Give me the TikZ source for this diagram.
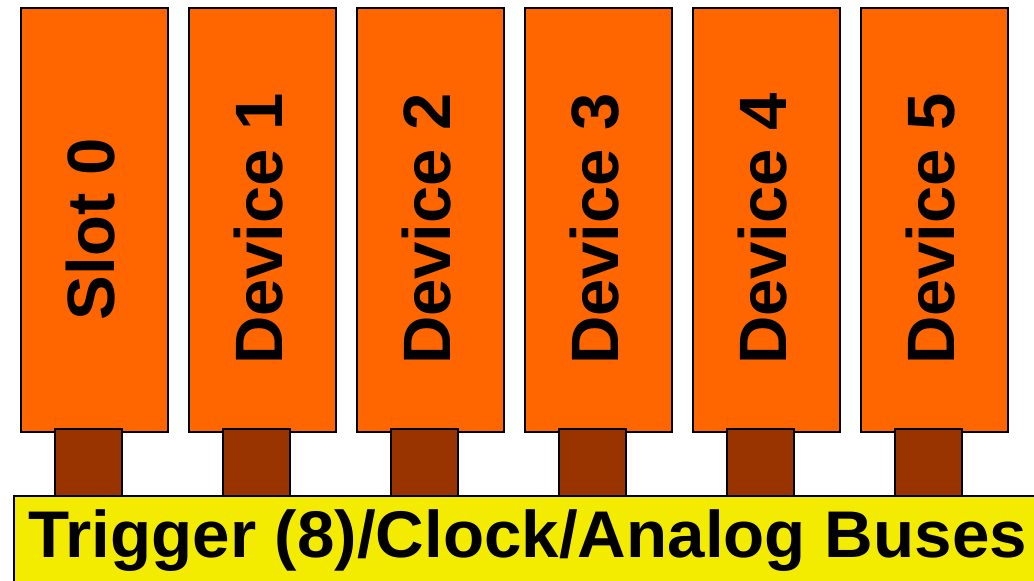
\documentclass[tikz,border=0pt]{standalone}
\usepackage{fontspec}
\setmainfont{Liberation Sans}
\usetikzlibrary{calc}
\definecolor{cardorange}{RGB}{255,102,0}
\definecolor{pinbrown}{RGB}{153,51,0}
\definecolor{busyellow}{RGB}{244,236,0}
\tikzset{
  card/.style={draw=black, line width=2pt, fill=cardorange, minimum width=147pt, minimum height=424pt, inner sep=0pt},
  pin/.style={draw=black, line width=1.5pt, fill=pinbrown, minimum width=67pt, minimum height=67pt, inner sep=0pt},
  cardlabel/.style={rotate=90, anchor=base, inner sep=0pt, font=\fontsize{67pt}{67pt}\selectfont\bfseries},
  buslabel/.style={anchor=base, inner sep=0pt, font=\fontsize{66pt}{66pt}\selectfont\bfseries},
}
\begin{document}
\begin{tikzpicture}[x=1pt, y=-1pt]
  \useasboundingbox (0,0) rectangle (1034,581);
  \clip (0,0) rectangle (1034,581);
  \fill[white] (0,0) rectangle (1034,581);
  % plug-in cards
  \foreach \i/\txt in {0/Slot 0, 1/Device 1, 2/Device 2, 3/Device 3, 4/Device 4, 5/Device 5} {
    \node[card] (card\i) at (94+168*\i, 220) {};
    \node[cardlabel] (label\i) at ($(card\i.center)+(20,9)$) {\txt};
  }
  % edge connectors
  \foreach \i in {0,...,5} {
    \node[pin] (pin\i) at ($(card\i.south)+(-5.5,29.5)$) {};
  }
  % backplane bus
  \node[draw=black, line width=2pt, fill=busyellow, anchor=north west, minimum width=1040pt, minimum height=100pt, inner sep=0pt] (bus) at (12.5,495) {};
  \node[buslabel, xscale=1.02] (buslabel) at (527.5,557) {Trigger (8)/Clock/Analog Buses};
\end{tikzpicture}
\end{document}
